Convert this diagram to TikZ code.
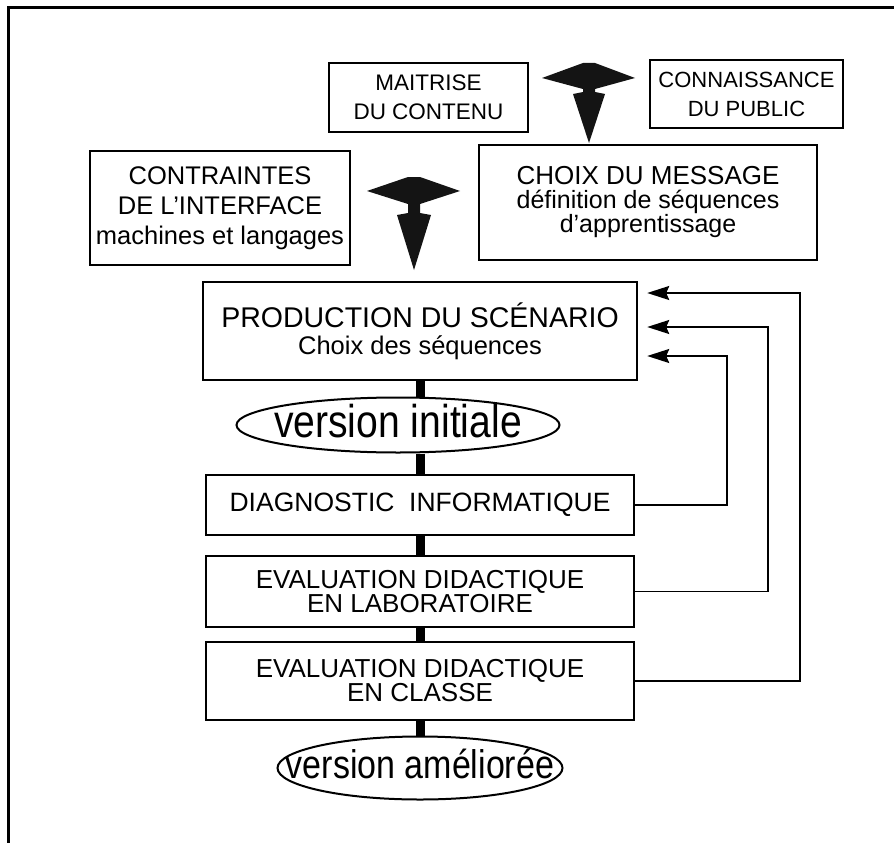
\documentclass[tikz,border=0pt]{standalone}
\usepackage{fontspec}
\setmainfont{Liberation Sans}
\newfontfamily\condfont[FakeStretch=0.85]{Liberation Sans}
\usetikzlibrary{arrows.meta,shapes.geometric,backgrounds}
\newcommand{\ovaltext}[2]{\makebox[0pt]{\raisebox{#1}[0pt][0pt]{#2}}}
\begin{document}
\begin{tikzpicture}[x=1pt,y=-1pt,
  box/.style={draw,line width=2.4pt,fill=white,inner sep=0pt,align=center},
  oval/.style={ellipse,draw,line width=2pt,fill=white,inner sep=0pt},
  spine/.style={line width=9pt},
  fb/.style={line width=1.8pt,-{Stealth[length=22pt,width=14pt,inset=3pt]}},
  bigarrow/.style={fill=black!92}]
\useasboundingbox (0,0) rectangle (894,843);
% frame
\draw[line width=3pt] (8,843) -- (8,7.5) -- (894,7.5);
% top boxes
\node[box,minimum width=199pt,minimum height=69pt,font=\fontsize{22.5}{29}\selectfont] (maitrise) at (428.5,97.5) {MAITRISE\\DU CONTENU};
\node[box,minimum width=193pt,minimum height=68pt,font=\fontsize{22}{29}\selectfont] (connaissance) at (746.5,94) {CONNAISSANCE\\DU PUBLIC};
\node[box,minimum width=260pt,minimum height=114pt,font=\fontsize{25.5}{30}\selectfont] (contraintes) at (220,208) {CONTRAINTES\\DE L’INTERFACE\\machines et langages};
\node[box,minimum width=338pt,minimum height=115pt,font=\fontsize{25}{24}\selectfont] (choix) at (648,202.5) {\fontsize{26}{24}\selectfont CHOIX DU MESSAGE\\définition de séquences\\d’apprentissage};
% main column
\node[box,minimum width=434pt,minimum height=98pt,font=\fontsize{27}{27}\selectfont] (prod) at (420,331) {\fontsize{28.5}{27}\selectfont PRODUCTION DU SCÉNARIO\\\fontsize{25.5}{27}\selectfont Choix des séquences};
\node[oval,minimum width=323pt,minimum height=55pt,font=\condfont\fontsize{46}{46}\selectfont] (init) at (398,425) {\ovaltext{-12pt}{version initiale}};
\node[box,minimum width=428pt,minimum height=60pt,font=\fontsize{26.5}{26}\selectfont] (diag) at (420,505) {DIAGNOSTIC\ \ INFORMATIQUE};
\node[box,minimum width=428pt,minimum height=71pt,font=\fontsize{26}{23}\selectfont] (lab) at (420,591.5) {EVALUATION DIDACTIQUE\\EN LABORATOIRE};
\node[box,minimum width=428pt,minimum height=78pt,font=\fontsize{26}{23}\selectfont] (classe) at (420,681) {EVALUATION DIDACTIQUE\\EN CLASSE};
\node[oval,minimum width=285pt,minimum height=63pt,font=\condfont\fontsize{40}{40}\selectfont] (ameliore) at (420,768) {\ovaltext{-10.5pt}{version améliorée}};
% spine
\begin{scope}[on background layer]
\draw[spine] (prod.south) -- (prod.south |- init.north);
\draw[spine] (prod.south |- init.south) -- (diag.north);
\draw[spine] (diag.south) -- (lab.north);
\draw[spine] (lab.south) -- (classe.north);
\draw[spine] (classe.south) -- (ameliore.north);
\end{scope}
% feedback arrows
\draw[fb] (diag.east) -- ++(92,0) |- ([xshift=9pt,yshift=-25pt]prod.east);
\draw[fb] (lab.east) -- ++(133,0) |- ([xshift=9pt,yshift=4pt]prod.east);
\draw[fb] (classe.east) -- ++(165,0) |- ([xshift=9pt,yshift=38pt]prod.east);
% big merge arrows
\fill[bigarrow] (542,78) -- (583,63) -- (595,63) -- (635,78) -- (595,89) -- (595,92) -- (605,94) -- (589,143) -- (573,94) -- (583,92) -- (583,89) -- cycle;
\fill[bigarrow] (367,191) -- (408,177) -- (420,177) -- (460,191) -- (420,204) -- (420,213) -- (431,215) -- (414,270) -- (397,215) -- (408,213) -- (408,204) -- cycle;
\end{tikzpicture}
\end{document}
